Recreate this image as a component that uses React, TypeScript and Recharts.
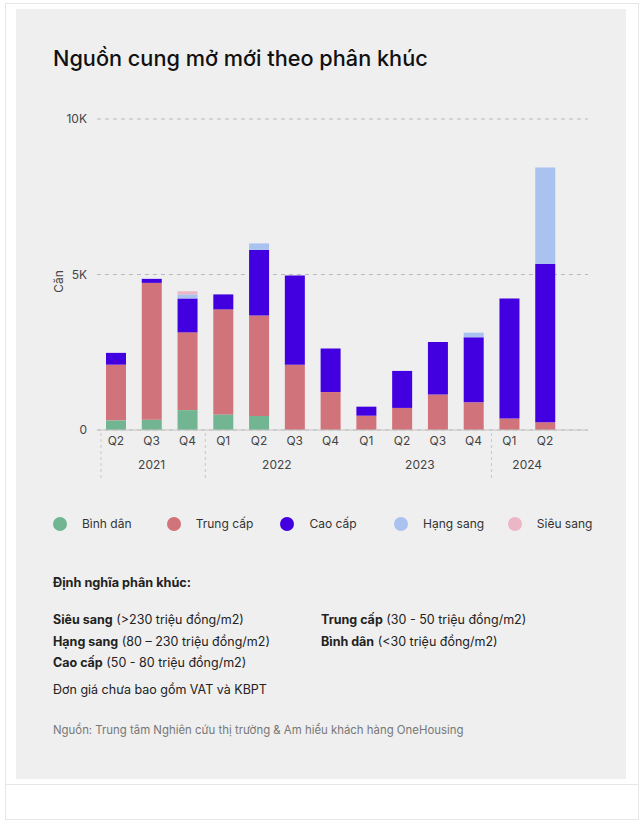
import React from "react";
import { BarChart, Bar, XAxis, YAxis, CartesianGrid, Label } from "recharts";

const quarters = ["Q2", "Q3", "Q4", "Q1", "Q2", "Q3", "Q4", "Q1", "Q2", "Q3", "Q4", "Q1", "Q2"];
const years = ["2021", "2021", "2021", "2022", "2022", "2022", "2022", "2023", "2023", "2023", "2023", "2024", "2024"];
const binhDan = [310, 330, 640, 500, 450, 0, 0, 0, 0, 0, 0, 0, 0];
const trungCap = [1790, 4400, 2500, 3380, 3230, 2100, 1220, 460, 710, 1140, 890, 370, 250];
const caoCap = [380, 130, 1090, 480, 2110, 2870, 1400, 290, 1190, 1690, 2090, 3860, 5090];
const hangSang = [0, 0, 130, 0, 210, 0, 0, 0, 0, 0, 150, 0, 3100];
const sieuSang = [0, 0, 100, 0, 0, 0, 0, 0, 0, 0, 0, 0, 0];
const yTicks = [0, 5000, 10000];
// years that get a dashed divider on their left edge
const yearDividers = ["2021", "2022", "2024"];

const series = [
  { key: "binhDan", name: "Bình dân", color: "#72b592" },
  { key: "trungCap", name: "Trung cấp", color: "#d0737a" },
  { key: "caoCap", name: "Cao cấp", color: "#4200e0" },
  { key: "hangSang", name: "Hạng sang", color: "#a9c2ef" },
  { key: "sieuSang", name: "Siêu sang", color: "#ebb6c6" },
];

const data = quarters.map((q, i) => ({
  key: `${years[i]}-${q}`,
  binhDan: binhDan[i],
  trungCap: trungCap[i],
  caoCap: caoCap[i],
  hangSang: hangSang[i],
  sieuSang: sieuSang[i],
}));

const FONT = "Inter, 'Noto Sans', sans-serif";

function QuarterTick(props: any) {
  const { x, y, payload } = props;
  const i = payload.index;
  const half = payload.offset || 0;
  const year = years[i];
  const first = i === 0 || years[i - 1] !== year;
  const count = years.filter((v) => v === year).length;
  const start = x - half;
  const lineX = i === 0 ? start + 3 : start;
  return (
    <g>
      <text x={x} y={y + 15} textAnchor="middle" fontSize={12} fill="#444" fontFamily={FONT}>
        {quarters[i]}
      </text>
      {first && yearDividers.includes(year) && (
        <line x1={lineX} x2={lineX} y1={y + 3} y2={y + 50} stroke="#c9c9c9" strokeDasharray="3 3" />
      )}
      {first && (
        <text x={start + count * half} y={y + 39} textAnchor="middle" fontSize={12} fill="#444" fontFamily={FONT}>
          {year}
        </text>
      )}
    </g>
  );
}

const fmtY = (v: number) => (v === 0 ? "0" : `${v / 1000}K`);

export default function App() {
  return (
    <div style={{ position: "absolute", left: 0, top: 0, width: 642, height: 824, background: "#fff", fontFamily: FONT }}>
      <div style={{ position: "absolute", left: 5, top: 3, width: 632, height: 815, border: "1px solid #e6e6e6" }} />
      <div style={{ position: "absolute", left: 5, top: 784, width: 633, height: 1, background: "#e6e6e6" }} />
      <div style={{ position: "absolute", left: 16, top: 9, width: 610, height: 770, background: "#efefef" }} />

      <div style={{ position: "absolute", left: 53, top: 45, fontSize: 21.7, fontWeight: 500, color: "#111", whiteSpace: "nowrap" }}>
        Nguồn cung mở mới theo phân khúc
      </div>

      <div style={{ position: "absolute", left: 40, top: 101 }}>
        <BarChart width={560} height={389} data={data} margin={{ top: 18, right: 12, bottom: 0, left: 0 }} barSize={20}>
          <CartesianGrid vertical={false} stroke="#b9b9b9" strokeDasharray="4 4" />
          <XAxis
            dataKey="key"
            interval={0}
            height={60}
            tickSize={0}
            tickMargin={0}
            tick={<QuarterTick />}
            axisLine={{ stroke: "#c4c4c4" }}
            tickLine={false}
            padding={{ left: 1, right: 25 }}
          />
          <YAxis
            width={57}
            domain={[0, 10000]}
            ticks={yTicks}
            tickFormatter={fmtY}
            axisLine={false}
            tickLine={false}
            tickSize={6}
            tickMargin={4}
            tick={{ fontSize: 12, fill: "#444", fontFamily: FONT }}
          >
            <Label value="Căn" angle={-90} position="center" dx={-10} dy={7} style={{ fontSize: 12, fill: "#444", fontFamily: FONT }} />
          </YAxis>
          {series.map((s) => (
            <Bar key={s.key} dataKey={s.key} name={s.name} stackId="a" fill={s.color} isAnimationActive={false} />
          ))}
        </BarChart>
      </div>

      {series.map((s, i) => (
        <div key={s.key} style={{ position: "absolute", left: 53 + i * 113.7, top: 516, display: "flex", alignItems: "center", whiteSpace: "nowrap" }}>
          <span style={{ width: 14, height: 14, borderRadius: 7, background: s.color, display: "inline-block" }} />
          <span style={{ marginLeft: 15, fontSize: 12, color: "#333" }}>{s.name}</span>
        </div>
      ))}

      <div style={{ position: "absolute", left: 53, top: 572, fontSize: 12.7, color: "#222", lineHeight: "22px", whiteSpace: "nowrap" }}>
        <div style={{ fontWeight: 700 }}>Định nghĩa phân khúc:</div>
      </div>
      <div style={{ position: "absolute", left: 53, top: 609, fontSize: 12.5, color: "#222", lineHeight: "21.5px", whiteSpace: "nowrap" }}>
        <div><b>Siêu sang</b> (&gt;230 triệu đồng/m2)</div>
        <div><b>Hạng sang</b> (80 – 230 triệu đồng/m2)</div>
        <div><b>Cao cấp</b> (50 - 80 triệu đồng/m2)</div>
        <div style={{ marginTop: 5 }}>Đơn giá chưa bao gồm VAT và KBPT</div>
      </div>
      <div style={{ position: "absolute", left: 321, top: 609, fontSize: 12.5, color: "#222", lineHeight: "21.5px", whiteSpace: "nowrap" }}>
        <div><b>Trung cấp</b> (30 - 50 triệu đồng/m2)</div>
        <div><b>Bình dân</b> (&lt;30 triệu đồng/m2)</div>
      </div>
      <div style={{ position: "absolute", left: 53, top: 723, fontSize: 11.4, color: "#777", whiteSpace: "nowrap" }}>
        Nguồn: Trung tâm Nghiên cứu thị trường &amp; Am hiểu khách hàng OneHousing
      </div>
    </div>
  );
}
